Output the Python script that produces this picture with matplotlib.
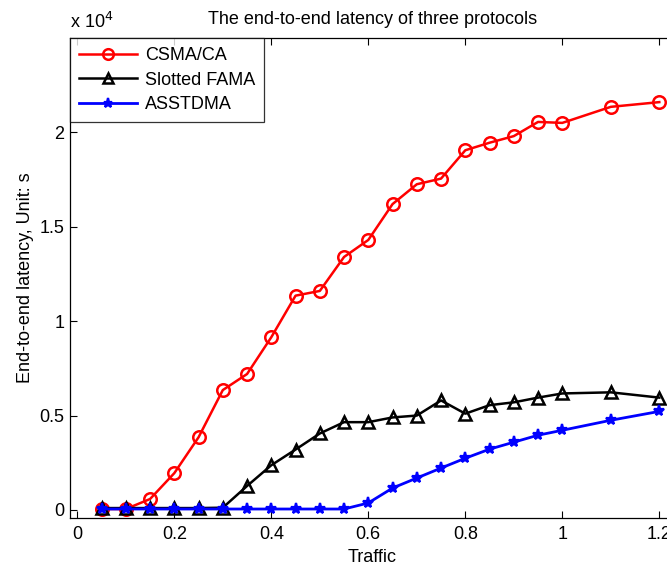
import matplotlib
matplotlib.use('Agg')
import matplotlib.pyplot as plt
from matplotlib.ticker import FuncFormatter

plt.rcParams['font.family'] = ['Liberation Sans', 'DejaVu Sans']

# ── Data ──────────────────────────────────────────────────
traffic = [0.05, 0.10, 0.15, 0.20, 0.25, 0.30, 0.35, 0.40, 0.45, 0.50,
           0.55, 0.60, 0.65, 0.70, 0.75, 0.80, 0.85, 0.90, 0.95, 1.00,
           1.10, 1.20]
csma_ca = [50, 50, 580, 1950, 3850, 6350, 7200, 9150, 11350, 11600,
           13400, 14300, 16200, 17250, 17550, 19050, 19450, 19800, 20550, 20500,
           21350, 21600]
slotted_fama = [100, 100, 100, 100, 100, 120, 1270, 2370, 3200, 4050,
                4650, 4650, 4900, 5000, 5800, 5100, 5550, 5700, 5950, 6170,
                6230, 5950]
asstdma = [50, 50, 50, 50, 50, 50, 50, 50, 50, 50,
           50, 370, 1160, 1690, 2220, 2740, 3220, 3590, 3960, 4220,
           4750, 5220]
y_ticks = [0, 5000, 10000, 15000, 20000]
x_ticks = [0, 0.2, 0.4, 0.6, 0.8, 1.0, 1.2]

FS = 13

# ── Figure ────────────────────────────────────────────────
fig = plt.figure(figsize=(6.67, 5.66), dpi=100)
ax = fig.add_axes([0.105, 0.085, 0.906, 0.848])

ax.plot(traffic, csma_ca, color='red', lw=1.8, marker='o', ms=9,
        mfc='none', mew=1.8, label='CSMA/CA')
ax.plot(traffic, slotted_fama, color='black', lw=1.8, marker='^', ms=9,
        mfc='none', mew=1.8, label='Slotted FAMA')
ax.plot(traffic, asstdma, color='blue', lw=2.0, marker='*', ms=8,
        mew=1.6, label='ASSTDMA')

ax.set_xlim(-0.015, 1.231)
ax.set_ylim(-420, 25000)
ax.set_xticks(x_ticks)
ax.set_yticks(y_ticks)
ax.xaxis.set_major_formatter(FuncFormatter(lambda v, p: '%g' % v))
ax.yaxis.set_major_formatter(FuncFormatter(lambda v, p: '%g' % (v / 1e4)))
ax.tick_params(direction='in', top=True, right=True, length=5,
               labelsize=FS, width=0.8)
ax.tick_params(axis='x', pad=6)
ax.tick_params(axis='y', pad=4)
for s in ax.spines.values():
    s.set_linewidth(0.9)

ax.text(0.0, 1.012, r'x 10$^4$', transform=ax.transAxes, fontsize=FS,
        ha='left', va='bottom')
ax.set_title('The end-to-end latency of three protocols', fontsize=FS, pad=10)
ax.set_xlabel('Traffic', fontsize=FS, labelpad=4)
ax.set_ylabel('End-to-end latency, Unit: s', fontsize=FS, labelpad=4)

leg = ax.legend(loc='upper left', fontsize=FS, frameon=True, fancybox=False,
                edgecolor='black', borderaxespad=0, handlelength=3.2,
                handletextpad=0.45, labelspacing=0.42, borderpad=0.5,
                markerscale=0.85)
leg.get_frame().set_linewidth(0.9)

fig.savefig('out.png', dpi=100)
